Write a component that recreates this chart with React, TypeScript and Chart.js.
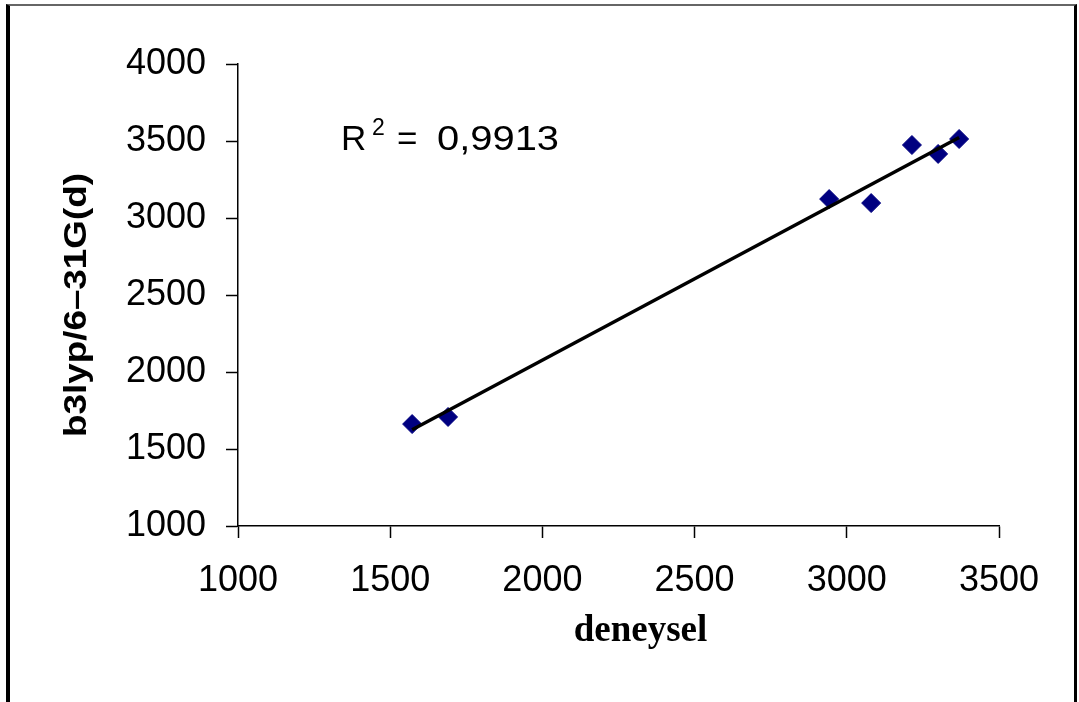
import React, { useEffect, useRef } from "react";
import { Chart, registerables } from "chart.js";

Chart.register(...registerables);

// ---- data ----
const xValues = [1572, 1690, 2942, 3080, 3214, 3300, 3369];
const yValues = [1662, 1708, 3123, 3097, 3474, 3416, 3513];
const xMin = 1000;
const xMax = 3500;
const yMin = 1000;
const yMax = 4000;
const tickStep = 500;
const xTitle = "deneysel";
const yTitle = "b3lyp/6–31G(d)";
const r2Value = "0,9913";

// least-squares trend line built from the data
function trend(xs: number[], ys: number[]) {
  const n = xs.length;
  const mx = xs.reduce((a, b) => a + b, 0) / n;
  const my = ys.reduce((a, b) => a + b, 0) / n;
  let sxy = 0;
  let sxx = 0;
  for (let i = 0; i < n; i++) {
    sxy += (xs[i] - mx) * (ys[i] - my);
    sxx += (xs[i] - mx) * (xs[i] - mx);
  }
  const slope = sxy / sxx;
  const icpt = my - slope * mx;
  const lo = Math.min(...xs);
  const hi = Math.max(...xs);
  return [
    { x: lo, y: icpt + slope * lo },
    { x: hi, y: icpt + slope * hi },
  ];
}

const SANS = '"Liberation Sans", Arial, sans-serif';
const SERIF = '"Liberation Serif", "Times New Roman", serif';

function stretchedText(ctx: any, text: string, x: number, y: number, sx: number) {
  ctx.save();
  ctx.translate(x, y);
  ctx.scale(sx, 1);
  ctx.fillText(text, 0, 0);
  ctx.restore();
}

// R² label and the two axis titles (drawn as canvas text)
const labelsPlugin = {
  id: "labels",
  afterDraw(chart: any) {
    const ctx = chart.ctx;
    const { left, top, right, bottom } = chart.chartArea;
    ctx.save();
    ctx.fillStyle = "#000";
    ctx.textBaseline = "alphabetic";
    ctx.textAlign = "left";
    ctx.font = `35px ${SANS}`;
    stretchedText(ctx, "R", left + 103, top + 86, 1.0);
    ctx.font = `23px ${SANS}`;
    stretchedText(ctx, "2", left + 134, top + 71, 1.0);
    ctx.font = `35px ${SANS}`;
    stretchedText(ctx, "=", left + 159, top + 86, 1.0);
    stretchedText(ctx, r2Value, left + 199, top + 86, 1.14);

    // x title
    ctx.font = `bold 37px ${SERIF}`;
    ctx.textAlign = "center";
    ctx.fillText(xTitle, (left + right) / 2 + 22, bottom + 115);

    // y title, rotated and stretched along its length
    ctx.font = `bold 31px ${SANS}`;
    const w = ctx.measureText(yTitle).width;
    ctx.save();
    ctx.translate(77, (top + bottom) / 2 + 10);
    ctx.rotate(-Math.PI / 2);
    ctx.scale(264 / w, 1);
    ctx.textAlign = "center";
    ctx.textBaseline = "middle";
    ctx.fillText(yTitle, 0, 0);
    ctx.restore();
    ctx.restore();
  },
};

export default function App() {
  const ref = useRef<HTMLCanvasElement | null>(null);

  useEffect(() => {
    if (!ref.current) return;
    const points = xValues.map((x, i) => ({ x, y: yValues[i] }));
    const chart = new Chart(ref.current, {
      type: "scatter",
      data: {
        datasets: [
          {
            label: "trend",
            data: trend(xValues, yValues),
            showLine: true,
            borderColor: "#000",
            borderWidth: 3.5,
            pointRadius: 0,
            pointHoverRadius: 0,
            order: 0,
          },
          {
            label: "data",
            data: points,
            pointStyle: "rectRot",
            pointRadius: 9.5,
            backgroundColor: "#000080",
            borderColor: "#000080",
            borderWidth: 1,
            order: 1,
          },
        ],
      },
      options: {
        responsive: false,
        animation: false,
        layout: { padding: { top: 64, right: 80, left: 0, bottom: 0 } },
        plugins: {
          legend: { display: false },
          tooltip: { enabled: false },
        },
        scales: {
          x: {
            type: "linear",
            min: xMin,
            max: xMax,
            ticks: {
              stepSize: tickStep,
              color: "#000",
              font: { family: SANS, size: 36 },
              padding: 21,
              callback: (v: any) => String(v),
            },
            grid: {
              drawOnChartArea: false,
              drawTicks: true,
              tickLength: 12,
              color: "#000",
              tickWidth: 1.5,
            },
            border: { display: true, color: "#000", width: 1.5 },
            title: { display: false },
            afterFit(scale: any) {
              scale.height = 176;
            },
          },
          y: {
            type: "linear",
            min: yMin,
            max: yMax,
            ticks: {
              stepSize: tickStep,
              color: "#000",
              font: { family: SANS, size: 36 },
              padding: 20,
              callback: (v: any) => String(v),
            },
            grid: {
              drawOnChartArea: false,
              drawTicks: true,
              tickLength: 12,
              color: "#000",
              tickWidth: 1.5,
            },
            border: { display: true, color: "#000", width: 1.5 },
            title: { display: false },
            afterFit(scale: any) {
              scale.width = 238;
            },
          },
        },
      },
      plugins: [labelsPlugin],
    });
    return () => chart.destroy();
  }, []);

  return (
    <div
      style={{
        position: "absolute",
        left: 0,
        top: 0,
        width: 1079,
        height: 702,
        overflow: "hidden",
        background: "#fff",
      }}
    >
      <canvas
        ref={ref}
        width={1079}
        height={702}
        style={{ position: "absolute", left: 0, top: 0, width: 1079, height: 702 }}
      />
      <div
        style={{
          position: "absolute",
          left: 6,
          top: 4,
          width: 1071,
          height: 720,
          boxSizing: "border-box",
          borderLeft: "4px solid #000",
          borderRight: "3px solid #000",
          borderTop: "2px solid #666",
          pointerEvents: "none",
        }}
      />
    </div>
  );
}
